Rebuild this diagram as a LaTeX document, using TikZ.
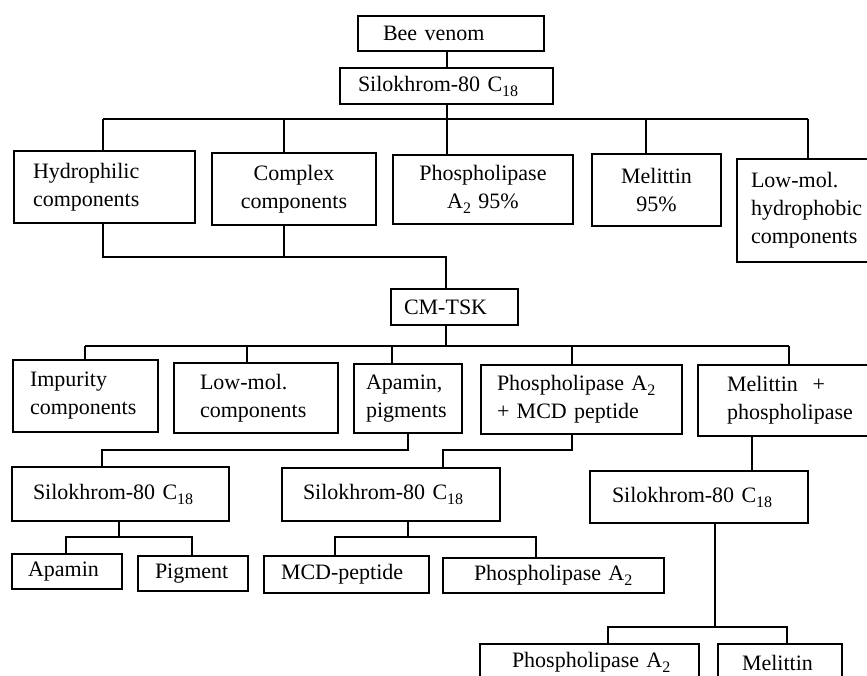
\documentclass[tikz,border=0pt]{standalone}
\usepackage{fontspec}
\setmainfont{Liberation Serif}
\hyphenpenalty=10000
\exhyphenpenalty=10000
\newcommand{\lowidx}[1]{\raisebox{-5pt}{\fontsize{16}{16}\selectfont #1}}
\tikzset{
  bx/.style n args={4}{draw, line width=2pt, rectangle, anchor=north west,
    inner ysep=0pt, inner xsep=#3, text width=#1, minimum height=#2, align=#4},
  conn/.style={line width=2pt},
}
\begin{document}
\begin{tikzpicture}[x=1pt,y=-1pt,font=\fontsize{22}{28}\selectfont]
\useasboundingbox (0,0) rectangle (867,675);
% boxes
\node[bx={136pt}{35pt}{25pt}{left}] (bee) at (357,15) {Bee~venom};
\node[bx={177pt}{36pt}{18pt}{left}] (silo0) at (339,67) {Silokhrom-80~C\lowidx{18}};
\node[bx={143pt}{72pt}{19pt}{left}] (hydro) at (13,150) {Hydrophilic\\components};
\node[bx={144pt}{72pt}{10pt}{center}] (complex) at (211,152) {Complex\\components};
\node[bx={160pt}{69pt}{10pt}{center}] (phos) at (392,154) {Phospholipase\\A\lowidx{2}~95\%};
\node[bx={113pt}{72pt}{8pt}{center}] (mel) at (591,153) {Melittin\\95\%};
\node[bx={122pt}{103pt}{14pt}{left}] (lowhyd) at (736,158) {Low-mol.\\hydrophobic\\components};
\node[bx={101pt}{36pt}{13pt}{left}] (cmtsk) at (390,288) {CM-TSK};
\node[bx={111pt}{72pt}{17pt}{left}] (impurity) at (12,359) {Impurity\\components};
\node[bx={112pt}{70pt}{26pt}{left}] (lowmol) at (173,362) {Low-mol.\\components};
\node[bx={84pt}{69pt}{12pt}{left}] (apamin) at (353,363) {Apamin,\\pigments};
\node[bx={169pt}{69pt}{16pt}{left}] (phosmcd) at (480,364) {Phospholipase~A\lowidx{2}\\+~MCD~peptide};
\node[bx={132pt}{71pt}{29pt}{left}] (melphos) at (697,364) {Melittin~~+\\phospholipase};
\node[bx={175pt}{54pt}{21pt}{left}] (siloL) at (11,466) {Silokhrom-80~C\lowidx{18}};
\node[bx={176pt}{53pt}{21pt}{left}] (siloM) at (281,467) {Silokhrom-80~C\lowidx{18}};
\node[bx={174pt}{52pt}{22pt}{left}] (siloR) at (589,470) {Silokhrom-80~C\lowidx{18}};
\node[bx={78pt}{35pt}{16pt}{left}] (apaminS) at (11,553) {Apamin};
\node[bx={76pt}{35pt}{17pt}{left}] (pigment) at (137,555) {Pigment};
\node[bx={131pt}{37pt}{17pt}{left}] (mcd) at (263,555) {MCD-peptide};
\node[bx={159pt}{35pt}{31pt}{left}] (phosM) at (442,557) {Phospholipase~A\lowidx{2}};
\node[bx={155pt}{37pt}{32pt}{left}] (phosB) at (479,643) {Phospholipase~A\lowidx{2}};
\node[bx={76pt}{37pt}{24pt}{left}] (melB) at (717,643) {Melittin};
% level 1
\coordinate (j0) at (447,119);
\coordinate (t1) at (103,119);
\coordinate (t2) at (284,119);
\coordinate (t4) at (646,119);
\coordinate (t5) at (808,119);
\draw[conn] (bee.south -| j0) -- (silo0.north -| j0);
\draw[conn] (silo0.south -| j0) -- (j0);
\draw[conn] (t1) -- (t5);
\foreach \c/\n in {t1/hydro, t2/complex, j0/phos, t4/mel, t5/lowhyd}
  \draw[conn] (\c) -- (\c |- \n.north);
% level 2
\coordinate (u1) at (103,257);
\coordinate (u2) at (284,257);
\coordinate (u3) at (446,257);
\draw[conn] (u1 |- hydro.south) -- (u1) -- (u3) -- (u3 |- cmtsk.north);
\draw[conn] (u2 |- complex.south) -- (u2);
% level 3
\coordinate (v0) at (446,346);
\coordinate (v1) at (85,346);
\coordinate (v2) at (247,346);
\coordinate (v3) at (392,346);
\coordinate (v4) at (572,346);
\coordinate (v5) at (789,346);
\draw[conn] (cmtsk.south -| v0) -- (v0);
\draw[conn] (v1) -- (v5);
\foreach \c/\n in {v1/impurity, v2/lowmol, v3/apamin, v4/phosmcd, v5/melphos}
  \draw[conn] (\c) -- (\c |- \n.north);
% level 4
\coordinate (w1) at (408,450);
\coordinate (w2) at (102,450);
\coordinate (w3) at (572,450);
\coordinate (w4) at (443,450);
\coordinate (w5) at (752,450);
\draw[conn] (w1 |- apamin.south) -- (w1) -- (w2) -- (w2 |- siloL.north);
\draw[conn] (w3 |- phosmcd.south) -- (w3) -- (w4) -- (w4 |- siloM.north);
\draw[conn] (w5 |- melphos.south) -- (w5 |- siloR.north);
% level 5
\coordinate (x0) at (119,537);
\coordinate (x1) at (66,537);
\coordinate (x2) at (192,537);
\draw[conn] (x0 |- siloL.south) -- (x0);
\draw[conn] (x1 |- apaminS.north) -- (x1) -- (x2) -- (x2 |- pigment.north);
\coordinate (y0) at (408,537);
\coordinate (y1) at (335,537);
\coordinate (y2) at (536,537);
\draw[conn] (y0 |- siloM.south) -- (y0);
\draw[conn] (y1 |- mcd.north) -- (y1) -- (y2) -- (y2 |- phosM.north);
\coordinate (z0) at (715,627);
\coordinate (z1) at (608,627);
\coordinate (z2) at (787,627);
\draw[conn] (z0 |- siloR.south) -- (z0);
\draw[conn] (z1 |- phosB.north) -- (z1) -- (z2) -- (z2 |- melB.north);
\end{tikzpicture}
\end{document}
